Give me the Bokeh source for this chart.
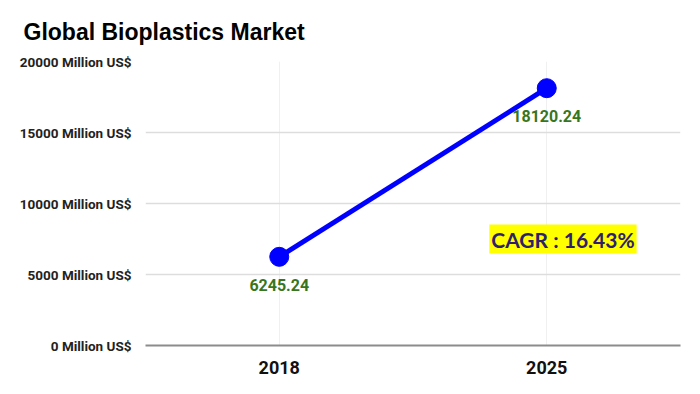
from bokeh.plotting import figure
from bokeh.models import ColumnDataSource, FactorRange, Range1d, FixedTicker, Label
from bokeh.embed import file_html
from bokeh.resources import INLINE

years = ["2018", "2025"]
market = [6245.24, 18120.24]
value_labels = ["6245.24", "18120.24"]
y_ticks = [0, 5000, 10000, 15000, 20000]
y_tick_labels = ["0 Million US$", "5000 Million US$", "10000 Million US$",
                 "15000 Million US$", "20000 Million US$"]
title_text = "Global Bioplastics Market"
cagr_text = "CAGR : 16.43%"

src = ColumnDataSource(dict(x=years, y=market, lab=value_labels))

p = figure(width=684, height=378, x_range=FactorRange(*years), y_range=Range1d(0, 20000),
           output_backend="svg", toolbar_location=None,
           min_border_left=145, min_border_right=4, min_border_top=61, min_border_bottom=33)

p.title.text = title_text
p.title.text_font = "Liberation Sans"
p.title.text_font_size = "23px"
p.title.text_font_style = "bold"
p.title.text_color = "#000000"
p.title.offset = -122
p.title.standoff = 33

p.outline_line_color = None
p.background_fill_color = "white"
p.border_fill_color = "white"

p.yaxis.ticker = FixedTicker(ticks=y_ticks)
p.yaxis.major_label_overrides = {t: l for t, l in zip(y_ticks, y_tick_labels)}
p.yaxis.axis_line_color = None
p.yaxis.major_tick_line_color = None
p.yaxis.minor_tick_line_color = None
p.yaxis.major_label_text_font = "Roboto"
p.yaxis.major_label_text_font_style = "bold"
p.yaxis.major_label_text_font_size = "13.5px"
p.yaxis.major_label_text_color = "#222222"
p.yaxis.major_label_standoff = 8

p.xaxis.axis_line_color = "#8c8c8c"
p.xaxis.axis_line_width = 2
p.xaxis.major_tick_line_color = None
p.xaxis.minor_tick_line_color = None
p.xaxis.major_label_text_font = "Roboto"
p.xaxis.major_label_text_font_style = "bold"
p.xaxis.major_label_text_font_size = "18px"
p.xaxis.major_label_text_color = "#111111"
p.xaxis.major_label_standoff = 9

p.ygrid.ticker = FixedTicker(ticks=y_ticks)
p.ygrid.grid_line_color = "#dddddd"
p.ygrid.grid_line_width = 1.5
p.xgrid.grid_line_color = "#f0f0f0"
p.xgrid.grid_line_width = 1

p.line("x", "y", source=src, line_color="#0000ff", line_width=5)
p.scatter("x", "y", source=src, size=19, fill_color="#0000ff", line_color="#0000ff")
p.text("x", "y", text="lab", source=src, y_offset=28, text_align="center",
       text_baseline="middle", text_color="#38761d", text_font_style="bold",
       text_font_size="16px", text_font={"value": "Roboto"})

cagr = Label(x=1.5607, y=7500, text=cagr_text, text_align="center", text_baseline="middle",
             text_font="Lato", text_font_style="bold", text_font_size="21px",
             text_color="#2e206e", background_fill_color="#ffff00", padding=2)
p.add_layout(cagr)

open("out.html", "w").write(file_html(p, INLINE))
